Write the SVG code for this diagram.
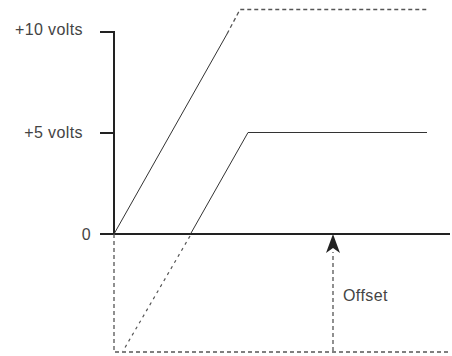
<svg xmlns="http://www.w3.org/2000/svg" width="452" height="356" viewBox="0 0 452 356">
<style>
.axis{stroke:#222;stroke-width:2;fill:none}
.solid{stroke:#333;stroke-width:1;fill:none}
.dash{stroke:#555;stroke-width:1.3;stroke-dasharray:4 3;fill:none}
.dot{stroke:#555;stroke-width:1.2;stroke-dasharray:3 4;fill:none}
.lbl{font-family:"Liberation Sans",Arial,sans-serif;font-size:16px;letter-spacing:0.4px;fill:#444}
</style>
<g id="axes">
<path class="axis" d="M100,32 H114 V234"/>
<path class="axis" d="M100,133 H114"/>
<path class="axis" d="M100,234 H450"/>
</g>
<g id="labels">
<text class="lbl" x="83" y="35" text-anchor="end">+10 volts</text>
<text class="lbl" x="83" y="138" text-anchor="end">+5 volts</text>
<text class="lbl" x="86.5" y="239.5" text-anchor="middle">0</text>
<text class="lbl" x="343" y="301">Offset</text>
</g>
<g id="connectors">
<path class="solid" d="M114,234 L227,34"/>
<path class="dash" d="M227,34 L240,9.5 H427"/>
<path class="solid" d="M190.5,234 L248,132.5 H427"/>
<path class="dash" d="M114,234 V352 H450"/>
<path class="dot" d="M190,236 L123,351"/>
<path class="dash" d="M333,351 V252"/>
<path d="M333,234 L340,253 L333,248 L326,253 Z" fill="#222"/>
</g>
</svg>
